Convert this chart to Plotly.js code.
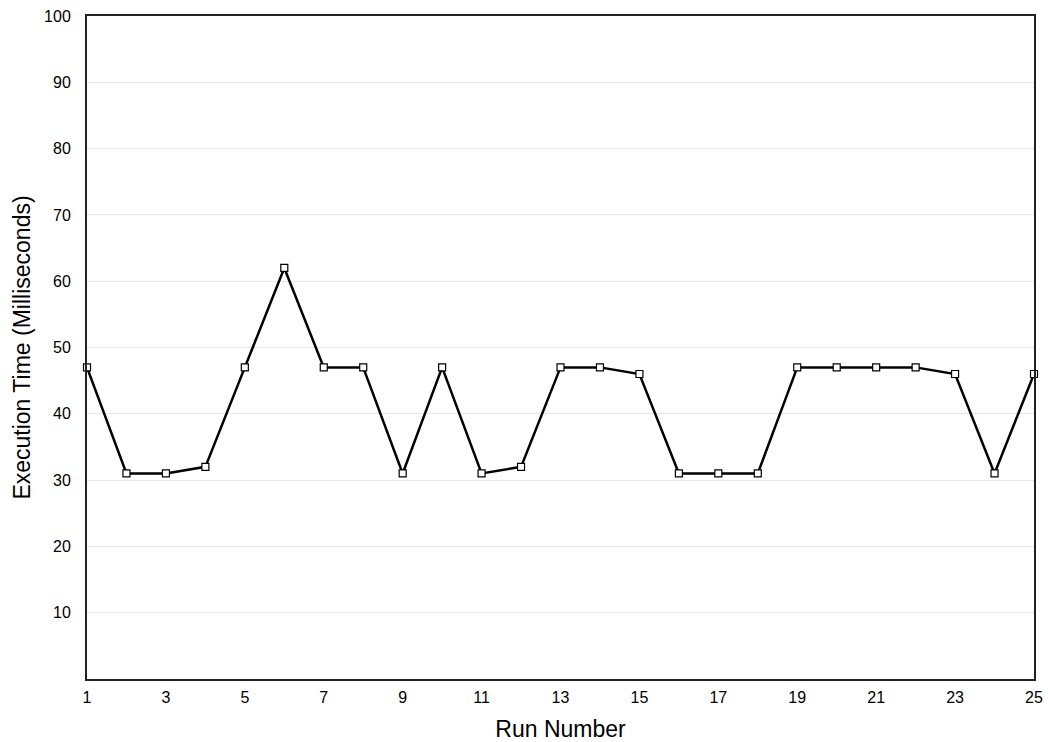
<!DOCTYPE html>
<html><head><meta charset="utf-8">
<script src="https://cdn.plot.ly/plotly-3.0.1.min.js"></script>
<style>body{margin:0;padding:0;background:#fff}#chart{width:1048px;height:742px}</style>
</head><body><div id="chart"></div>
<script>
const runs = [1,2,3,4,5,6,7,8,9,10,11,12,13,14,15,16,17,18,19,20,21,22,23,24,25];
const times = [47,31,31,32,47,62,47,47,31,47,31,32,47,47,46,31,31,31,47,47,47,47,46,31,46];
const xTicks = [1,3,5,7,9,11,13,15,17,19,21,23,25];
const yTicks = [10,20,30,40,50,60,70,80,90,100];

Plotly.newPlot('chart', [{
  x: runs, y: times, type: 'scatter', mode: 'lines+markers',
  line: {color: '#000', width: 2.5},
  marker: {symbol: 'square', size: 7, color: '#fff', line: {color: '#000', width: 1.2}},
  cliponaxis: false
}], {
  width: 1048, height: 742,
  margin: {l: 87, r: 14, t: 16, b: 63},
  paper_bgcolor: '#fff', plot_bgcolor: '#fff',
  font: {family: 'Liberation Sans, Arial, sans-serif', color: '#000', size: 16},
  showlegend: false,
  xaxis: {range: [1, 25], tickvals: xTicks, ticks: '', showgrid: false, zeroline: false,
    showline: true, linecolor: '#222', linewidth: 2, mirror: true,
    tickfont: {size: 16}, ticklabelstandoff: 3,
    title: {text: 'Run Number', font: {size: 23}, standoff: 16}},
  yaxis: {range: [0, 100], tickvals: yTicks, ticks: '', showgrid: true, gridcolor: '#e6e6e6', gridwidth: 1,
    zeroline: false, showline: true, linecolor: '#222', linewidth: 2, mirror: true,
    tickfont: {size: 16}, ticklabelstandoff: 11,
    title: {text: 'Execution Time (Milliseconds)', font: {size: 23}, standoff: 7}}
}, {displayModeBar: false, staticPlot: true});
</script></body></html>
